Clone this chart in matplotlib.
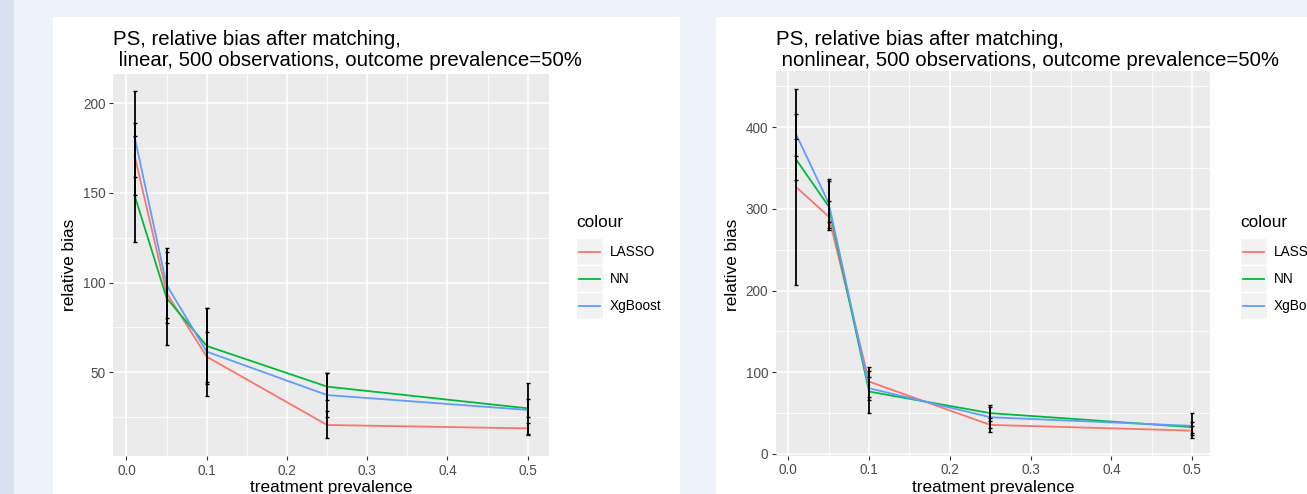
import matplotlib
matplotlib.use("Agg")
import matplotlib.pyplot as plt
from matplotlib.patches import Rectangle, FancyBboxPatch
from matplotlib.lines import Line2D

plt.rcParams['font.family'] = ['Liberation Sans', 'DejaVu Sans']

W, H, DPI = 1307, 494, 100

# ---------------- data ----------------
prevalence = [0.01, 0.05, 0.1, 0.25, 0.5]
series = ['LASSO', 'NN', 'XgBoost']
colors = ['#F8766D', '#00BA38', '#619CFF']

x_ticks = [0.0, 0.1, 0.2, 0.3, 0.4, 0.5]
x_ticklabels = ['0.0', '0.1', '0.2', '0.3', '0.4', '0.5']

# linear scenario
lin_lasso = [171.0, 94.1, 58.6, 20.5, 18.6]
lin_lasso_lo = [148.8, 77.2, 44.6, 13.0, 14.9]
lin_lasso_hi = [189.2, 111.0, 72.2, 28.3, 21.4]
lin_nn = [148.8, 91.3, 64.6, 41.9, 29.8]
lin_nn_lo = [122.8, 65.1, 43.4, 34.5, 15.5]
lin_nn_hi = [181.9, 119.1, 85.6, 49.3, 44.1]
lin_xg = [181.4, 98.6, 61.4, 37.2, 28.9]
lin_xg_lo = [159.0, 80.0, 36.7, 25.1, 24.8]
lin_xg_hi = [206.9, 117.2, 85.6, 49.3, 34.8]
lin_yticks = [50, 100, 150, 200]
lin_yticklabels = ['50', '100', '150', '200']

# nonlinear scenario
nl_lasso = [326.6, 290.6, 88.6, 35.6, 28.6]
nl_lasso_lo = [207.0, 274.0, 70.0, 27.4, 23.4]
nl_lasso_hi = [447.0, 310.0, 107.0, 44.0, 33.8]
nl_nn = [360.0, 303.0, 76.4, 50.0, 32.8]
nl_nn_lo = [335.0, 284.5, 50.7, 40.0, 25.9]
nl_nn_hi = [385.0, 334.3, 102.0, 60.1, 39.7]
nl_xg = [390.6, 307.0, 80.5, 45.0, 34.4]
nl_xg_lo = [365.0, 276.0, 66.2, 31.6, 19.3]
nl_xg_hi = [416.0, 336.7, 94.7, 58.0, 50.0]
nl_yticks = [0, 100, 200, 300, 400]
nl_yticklabels = ['0', '100', '200', '300', '400']

title_lin = "PS, relative bias after matching,\n linear, 500 observations, outcome prevalence=50%"
title_nl = "PS, relative bias after matching,\n nonlinear, 500 observations, outcome prevalence=50%"

# ---------------- figure ----------------
fig = plt.figure(figsize=(W / DPI, H / DPI), dpi=DPI)
fig.patch.set_facecolor('#EEF2FA')

bg = fig.add_axes([0, 0, 1, 1], zorder=-5)
bg.set_xlim(0, W)
bg.set_ylim(H, 0)
bg.axis('off')
bg.add_patch(Rectangle((0, 0), 14, H, color='#D8E1F2', lw=0))
bg.add_patch(FancyBboxPatch((14, -40), 1400, H + 40 - 0.5,
                            boxstyle='round,pad=0,rounding_size=17',
                            fc='#EEF2FA', ec='none'))
bg.add_patch(Rectangle((53, 17), 680 - 53, H, color='white', lw=0))
bg.add_patch(Rectangle((716, 17), W, H, color='white', lw=0))


def px_axes(x0, x1, y0, y1):
    return fig.add_axes([x0 / W, 1 - y1 / H, (x1 - x0) / W, (y1 - y0) / H])


def style(ax, xlim, ylim, yticks, yticklabels, yminor):
    ax.set_facecolor('#EBEBEB')
    for s in ax.spines.values():
        s.set_visible(False)
    ax.set_xlim(*xlim)
    ax.set_ylim(*ylim)
    ax.set_xticks(x_ticks)
    ax.set_xticklabels(x_ticklabels)
    ax.set_xticks([0.05, 0.15, 0.25, 0.35, 0.45], minor=True)
    ax.set_yticks(yticks)
    ax.set_yticklabels(yticklabels)
    ax.set_yticks(yminor, minor=True)
    ax.grid(which='major', color='white', lw=1.1)
    ax.grid(which='minor', color='white', lw=0.55)
    ax.set_axisbelow(True)
    ax.tick_params(which='minor', length=0)
    ax.tick_params(which='major', length=3.1, width=0.8, color='#333333',
                   labelcolor='#4D4D4D', labelsize=9.8, pad=2.5)


def draw(ax, means, los, his):
    for m, c in zip(means, colors):
        ax.plot(prevalence, m, color=c, lw=1.3, zorder=3)
    for m, lo, hi in zip(means, los, his):
        yerr = [[a - b for a, b in zip(m, lo)], [b - a for a, b in zip(m, hi)]]
        ax.errorbar(prevalence, m, yerr=yerr, fmt='none', ecolor='black',
                    elinewidth=1.3, capsize=1.6, capthick=1.0, zorder=4)


def legend(x0, ytitle):
    bg.text(x0, ytitle, 'colour', fontsize=12.4, color='black', ha='left', va='center')
    ky0 = 238
    for i, (name, c) in enumerate(zip(series, colors)):
        y = ky0 + 27 * i
        bg.add_patch(Rectangle((x0, y), 27, 27, fc='#F2F2F2', ec='white', lw=1))
        bg.add_line(Line2D([x0 + 3, x0 + 24], [y + 13.5, y + 13.5], color=c, lw=1.3))
        bg.text(x0 + 34, y + 13.5, name, fontsize=9.8, color='black', ha='left', va='center')


def labels(ax, xc, yc_xlabel, xc_ylabel, yc):
    ax.set_xlabel('treatment prevalence', fontsize=12.4, color='black')
    ax.set_ylabel('relative bias', fontsize=12.4, color='black')
    ax.xaxis.label.set_va('center')
    ax.yaxis.label.set_va('center')
    ax.xaxis.set_label_coords(xc / W, 1 - yc_xlabel / H, transform=fig.transFigure)
    ax.yaxis.set_label_coords(xc_ylabel / W, 1 - yc / H, transform=fig.transFigure)


# left chart (linear)
ax1 = px_axes(113.3, 549.3, 73.6, 455.8)
style(ax1, (-0.01645, 0.5269), (3.3, 216.6), lin_yticks, lin_yticklabels, [25, 75, 125, 175])
draw(ax1, [lin_lasso, lin_nn, lin_xg], [lin_lasso_lo, lin_nn_lo, lin_xg_lo],
     [lin_lasso_hi, lin_nn_hi, lin_xg_hi])
labels(ax1, 331, 487, 69, 265)
fig.text(113.3 / W, 1 - 30 / H, title_lin, fontsize=14.7, ha='left', va='top',
         linespacing=1.1, color='black')
legend(576, 222)

# right chart (nonlinear)
ax2 = px_axes(776, 1210, 71.3, 455.7)
style(ax2, (-0.0152, 0.5219), (-2.1, 468.4), nl_yticks, nl_yticklabels, [50, 150, 250, 350, 450])
draw(ax2, [nl_lasso, nl_nn, nl_xg], [nl_lasso_lo, nl_nn_lo, nl_xg_lo],
     [nl_lasso_hi, nl_nn_hi, nl_xg_hi])
labels(ax2, 993, 487, 733, 265)
fig.text(776 / W, 1 - 30 / H, title_nl, fontsize=14.7, ha='left', va='top',
         linespacing=1.1, color='black')
legend(1240, 222)

fig.savefig('out.png', dpi=DPI)
